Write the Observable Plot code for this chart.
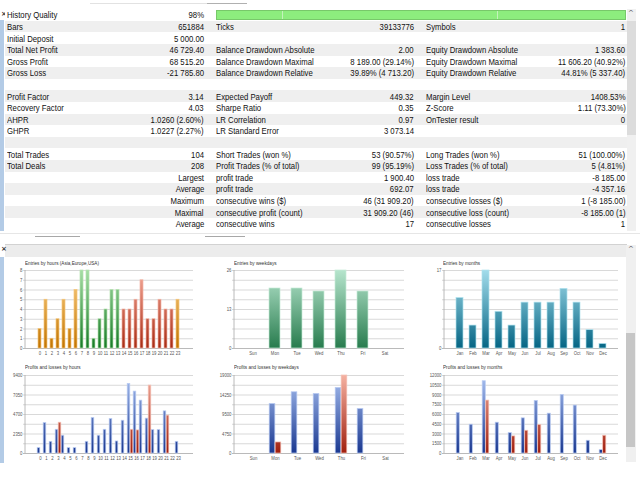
<!DOCTYPE html>
<html><head><meta charset="utf-8">
<script src="https://cdn.jsdelivr.net/npm/d3@7"></script>
<script src="https://cdn.jsdelivr.net/npm/@observablehq/plot@0.6"></script>
<style>
html,body{margin:0;padding:0;background:#fff;}
#root{position:relative;width:640px;height:480px;overflow:hidden;font-family:"Liberation Sans",Arial,sans-serif;color:#111;}
.abs{position:absolute;}
.t{position:absolute;font-size:9px;line-height:11.6px;height:11.6px;padding-top:1.3px;white-space:nowrap;transform:scaleX(0.86);}
.tl{transform-origin:left center;}
.tr{transform-origin:right center;text-align:right;}
.ctitle{position:absolute;font-size:5.8px;line-height:7px;color:#333;white-space:nowrap;transform:scaleX(0.8);transform-origin:left center;}
.chart{position:absolute;}
</style></head><body><div id="root"></div>
<script>
// ---------- report table ----------
const col1Labels = ["History Quality","Bars","Initial Deposit","Total Net Profit","Gross Profit","Gross Loss","","Profit Factor","Recovery Factor","AHPR","GHPR","","Total Trades","Total Deals","","","","",""];
const col1Values = ["98%","651884","5 000.00","46 729.40","68 515.20","-21 785.80","","3.14","4.03","1.0260 (2.60%)","1.0227 (2.27%)","","104","208","Largest","Average","Maximum","Maximal","Average"];
const col2Labels = ["","Ticks","","Balance Drawdown Absolute","Balance Drawdown Maximal","Balance Drawdown Relative","","Expected Payoff","Sharpe Ratio","LR Correlation","LR Standard Error","","Short Trades (won %)","Profit Trades (% of total)","profit trade","profit trade","consecutive wins ($)","consecutive profit (count)","consecutive wins"];
const col2Values = ["","39133776","","2.00","8 189.00 (29.14%)","39.89% (4 713.20)","","449.32","0.35","0.97","3 073.14","","53 (90.57%)","99 (95.19%)","1 900.40","692.07","46 (31 909.20)","31 909.20 (46)","17"];
const col3Labels = ["","Symbols","","Equity Drawdown Absolute","Equity Drawdown Maximal","Equity Drawdown Relative","","Margin Level","Z-Score","OnTester result","","","Long Trades (won %)","Loss Trades (% of total)","loss trade","loss trade","consecutive losses ($)","consecutive loss (count)","consecutive losses"];
const col3Values = ["","1","","1 383.60","11 606.20 (40.92%)","44.81% (5 337.40)","","1408.53%","1.11 (73.30%)","0","","","51 (100.00%)","5 (4.81%)","-8 185.00","-4 357.16","1 (-8 185.00)","-8 185.00 (1)","1"];

// ---------- chart data ----------
const hourLabels = ["0","1","2","3","4","5","6","7","8","9","10","11","12","13","14","15","16","17","18","19","20","21","22","23"];
const hourSession = ["Asia","Asia","Asia","Asia","Asia","Asia","Asia","Europe","Europe","Europe","Europe","Europe","Europe","Europe","USA","USA","USA","USA","USA","USA","USA","USA","USA","Asia"];
const hourEntries = [2,5,1,3,5,2,6,8,8,1,3,4,6,6,4,4,5,7,3,3,5,4,4,5];
const hourProfits = [645,3670,1410,2860,2140,645,645,0,1410,4280,2140,2860,4150,1450,3950,8390,7460,6370,4200,2820,2820,5080,0,1410];
const hourLosses  = [0,0,0,3710,0,0,0,0,0,0,0,0,0,0,0,2860,2780,0,8185,0,0,4560,0,0];

const weekdayLabels = ["Sun","Mon","Tue","Wed","Thu","Fri","Sat"];
const weekdayEntries = [0,20,20,19,26,19,0];
const weekdayProfits = [0,12070,14920,14520,15980,10850,0];
const weekdayLosses  = [0,2690,0,0,19000,0,0];

const monthLabels = ["Jan","Feb","Mar","Apr","May","Jun","Jul","Aug","Sep","Oct","Nov","Dec"];
const monthEntries = [11,5,17,8,5,10,10,10,13,10,4,1];
const monthProfits = [6230,4430,11120,4740,3140,5410,8090,6130,9010,7370,1960,515];
const monthLosses  = [0,0,8140,0,2630,3500,4380,0,0,0,0,2730];

const hourEntryTicks = [0,1,2,3,4,5,6,7,8];
const weekdayEntryTicks = [0,13,26];
const monthEntryTicks = [0,17];
const hourPLTicks = [0,2350,4700,7050,9400];
const weekdayPLTicks = [0,4750,9500,14250,19000];
const monthPLTicks = [0,1500,3000,4500,6000,7500,9000,10500,12000];

const titles = ["Entries by hours (Asia,Europe,USA)","Entries by weekdays","Entries by months","Profits and losses by hours","Profits and losses by weekdays","Profits and losses by months"];

// ---------- build page ----------
const root = document.getElementById("root");
function div(cls, css, text){ const d=document.createElement("div"); if(cls) d.className=cls; d.style.cssText=css; if(text!==undefined) d.textContent=text; root.appendChild(d); return d; }

// top chrome
div("abs","left:90px;top:3px;width:150px;height:1px;background:#e2e2e2;");
div("abs","left:207px;top:3px;width:40px;height:1px;background:#b0b0b0;");
div("abs","left:0;top:20px;width:4px;height:211px;background:#b3cbe6;");
div("abs","left:1px;top:10px;font-size:7px;font-weight:bold;color:#333;font-family:DejaVu Sans;","×");

const ROW_TOP = 9.2, ROW_H = 11.6;
col1Labels.forEach((_, i) => {
  const y = ROW_TOP + i*ROW_H;
  div("abs",`left:5px;top:${y}px;width:622px;height:${ROW_H}px;background:${i%2?"#efefef":"#fff"};`);
});
// history quality bar
div("abs","left:216px;top:10px;width:408px;height:8px;background:#8ded7e;border:1px solid #78c86a;");
div("abs","left:282px;top:11px;width:1px;height:8px;background:#c4f2bc;");
div("abs","left:497px;top:11px;width:1px;height:8px;background:#c4f2bc;");
col1Labels.forEach((_, i) => {
  const y = ROW_TOP + i*ROW_H;
  div("t tl",`left:7px;top:${y}px;`, col1Labels[i]);
  div("t tr",`right:${640-204}px;top:${y}px;`, col1Values[i]);
  div("t tl",`left:216px;top:${y}px;`, col2Labels[i]);
  div("t tr",`right:${640-414}px;top:${y}px;`, col2Values[i]);
  div("t tl",`left:426px;top:${y}px;`, col3Labels[i]);
  div("t tr",`right:${640-625.5}px;top:${y}px;`, col3Values[i]);
});
// top scrollbar
div("abs","left:627px;top:9px;width:9px;height:222px;background:#f0f0f0;");
div("abs","left:627px;top:21px;width:9px;height:114px;background:#dcdcdc;");
div("abs","left:628px;top:9px;font-size:7px;color:#555;font-family:DejaVu Sans;","^");

// separator
div("abs","left:0;top:233px;width:640px;height:1px;background:#e6e6e6;");
div("abs","left:35px;top:236px;width:45px;height:1px;background:#a8a8a8;");
div("abs","left:205px;top:236px;width:40px;height:1px;background:#a8a8a8;");
div("abs","left:5px;top:244px;width:622px;height:1px;background:#d2d2d2;");
div("abs","left:5px;top:245px;width:622px;height:12px;background:#ececec;");
div("abs","left:1px;top:245px;font-size:7px;font-weight:bold;color:#333;font-family:DejaVu Sans;","×");
div("abs","left:0;top:257px;width:4px;height:206px;background:#b3cbe6;");
// bottom scrollbar
div("abs","left:626px;top:245px;width:10px;height:217px;background:#f0f0f0;");
div("abs","left:626px;top:333px;width:9px;height:114px;background:#c6c6c6;");
div("abs","left:628px;top:245px;font-size:7px;color:#555;font-family:DejaVu Sans;","^");

// gradients (chart-wide, userSpaceOnUse so tall bars get the light tops)
const MT = 6, PH = 78, MB = 10, ML = 20, MR = 4;
const grads = {
  gOrange:["#fcd28a","#c27400"], gGreen:["#a6dea6","#157a25"], gRed:["#f6ad9c","#a82a12"],
  gTeal:["#b6e5cd","#287c4e"], gCyan:["#a2dceb","#056584"], gBlue:["#a9c1f1","#1a3890"], gLoss:["#f5b2a2","#a01f0e"]
};
const defs = document.createElementNS("http://www.w3.org/2000/svg","svg");
defs.setAttribute("width","0"); defs.setAttribute("height","0");
defs.style.cssText="position:absolute;left:0;top:0;";
defs.innerHTML = "<defs>" + Object.entries(grads).map(([id,[a,b]]) =>
  `<linearGradient id="${id}" gradientUnits="userSpaceOnUse" x1="0" y1="${MT}" x2="0" y2="${MT+PH}"><stop offset="0" stop-color="${a}"/><stop offset="1" stop-color="${b}"/></linearGradient>`).join("") + "</defs>";
root.appendChild(defs);

const strokeOf = {gOrange:"#f6c77a", gGreen:"#b5e3b0", gRed:"#f2b6a8", gTeal:"#c6ebd8", gCyan:"#b0e2ee", gBlue:"#b9cbf2", gLoss:"#f4c0b4"};

function makeChart({plotLeft, plotTop, plotW, labels, yMax, yTicks, padding, marks}) {
  const grid = d3.range(0, 9).map(i => yMax * i / 8);
  const chart = Plot.plot({
    width: ML + plotW + MR, height: MT + PH + MB,
    marginLeft: ML, marginRight: MR, marginTop: MT, marginBottom: MB,
    style: {fontFamily: '"Liberation Sans",Arial,sans-serif', fontSize: "5.2px", color: "#555", background: "transparent", overflow: "visible"},
    x: {domain: labels, padding, label: null, tickSize: 0, tickPadding: 2.5},
    y: {domain: [0, yMax], label: null, ticks: yTicks, tickSize: 0, tickPadding: 3, tickFormat: d => String(d)},
    color: {type: "identity"},
    marks: [
      Plot.ruleY(grid, {stroke: d => d === 0 ? "#a8a8a8" : "#cfcfcf", strokeWidth: 0.8, insetLeft: -2}),
      ...marks
    ]
  });
  const xs = chart.scale("x").range, ys = chart.scale("y").range;
  const l = document.createElementNS("http://www.w3.org/2000/svg","line");
  l.setAttribute("x1", xs[0]); l.setAttribute("x2", xs[0]);
  l.setAttribute("y1", ys[0]); l.setAttribute("y2", ys[1]);
  l.setAttribute("stroke", "#a8a8a8"); l.setAttribute("stroke-width", "0.8");
  chart.appendChild(l);
  // condense tick label text horizontally (the reference uses a narrow font)
  chart.querySelectorAll("text").forEach(t => {
    const tr = t.getAttribute("transform");
    if (tr && tr.includes("translate")) t.setAttribute("transform", tr + " scale(0.82,1)");
  });
  chart.classList.add("chart");
  chart.style.left = (plotLeft - ML) + "px";
  chart.style.top = (plotTop - MT) + "px";
  chart.style.position = "absolute";
  root.appendChild(chart);
  return chart;
}

function entryMarks(labels, values, gradFor) {
  const data = labels.map((x, i) => ({x, y: values[i], g: gradFor(i)})).filter(d => d.y > 0);
  return [Plot.barY(data, {x: "x", y: "y", fill: d => `url(#${d.g})`, stroke: d => strokeOf[d.g], strokeWidth: 0.7})];
}
function plMarks(labels, profits, losses, plotW, padding) {
  const n = labels.length;
  const step = plotW / (n + padding);
  const bw = step * (1 - padding);
  const pd = labels.map((x, i) => ({x, y: profits[i]})).filter(d => d.y > 0);
  const ld = labels.map((x, i) => ({x, y: losses[i]})).filter(d => d.y > 0);
  return [
    Plot.barY(pd, {x: "x", y: "y", fill: () => "url(#gBlue)", stroke: () => strokeOf.gBlue, strokeWidth: 0.7, insetLeft: 0.2, insetRight: bw / 2}),
    Plot.barY(ld, {x: "x", y: "y", fill: () => "url(#gLoss)", stroke: () => strokeOf.gLoss, strokeWidth: 0.7, insetLeft: bw / 2, insetRight: 0.2})
  ];
}

const sessionGrad = {Asia: "gOrange", Europe: "gGreen", USA: "gRed"};
const topY = 270, botY = 375;
const cols = [{left: 25, w: 168}, {left: 234, w: 170}, {left: 444, w: 174}];

makeChart({plotLeft: cols[0].left, plotTop: topY, plotW: cols[0].w, labels: hourLabels, yMax: 8, yTicks: hourEntryTicks, padding: 0.43,
  marks: entryMarks(hourLabels, hourEntries, i => sessionGrad[hourSession[i]])});
makeChart({plotLeft: cols[1].left, plotTop: topY, plotW: cols[1].w, labels: weekdayLabels, yMax: 26, yTicks: weekdayEntryTicks, padding: 0.48,
  marks: entryMarks(weekdayLabels, weekdayEntries, () => "gTeal")});
makeChart({plotLeft: cols[2].left, plotTop: topY, plotW: cols[2].w, labels: monthLabels, yMax: 17, yTicks: monthEntryTicks, padding: 0.5,
  marks: entryMarks(monthLabels, monthEntries, () => "gCyan")});

makeChart({plotLeft: cols[0].left, plotTop: botY, plotW: cols[0].w, labels: hourLabels, yMax: 9400, yTicks: hourPLTicks, padding: 0.08,
  marks: plMarks(hourLabels, hourProfits, hourLosses, cols[0].w, 0.08)});
makeChart({plotLeft: cols[1].left, plotTop: botY, plotW: cols[1].w, labels: weekdayLabels, yMax: 19000, yTicks: weekdayPLTicks, padding: 0.46,
  marks: plMarks(weekdayLabels, weekdayProfits, weekdayLosses, cols[1].w, 0.46)});
makeChart({plotLeft: cols[2].left, plotTop: botY, plotW: cols[2].w, labels: monthLabels, yMax: 12000, yTicks: monthPLTicks, padding: 0.47,
  marks: plMarks(monthLabels, monthProfits, monthLosses, cols[2].w, 0.47)});

// chart titles
[[25,260],[234,260],[443,260],[25,364],[234,364],[443,364]].forEach(([x,y],i) => div("ctitle",`left:${x}px;top:${y}px;`, titles[i]));
</script></body></html>
